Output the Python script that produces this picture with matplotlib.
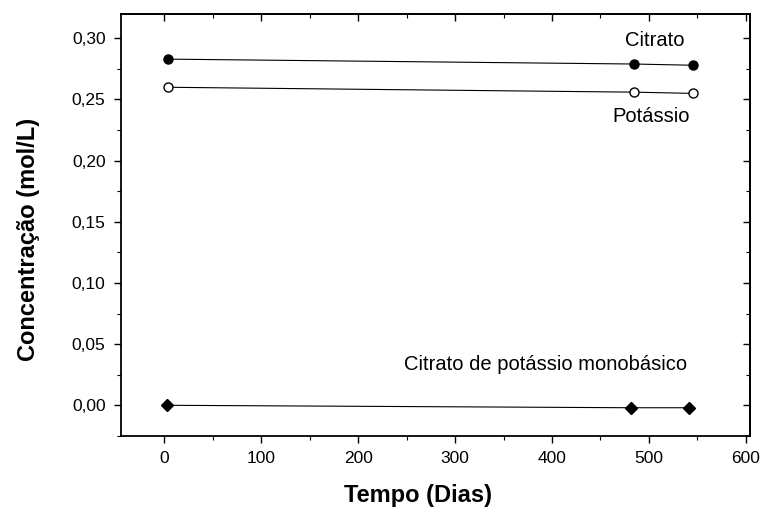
import matplotlib
matplotlib.use("Agg")
import matplotlib.pyplot as plt
from matplotlib.ticker import MultipleLocator, FuncFormatter, NullFormatter

plt.rcParams['font.family'] = ['Liberation Sans', 'DejaVu Sans']

dias_citrato = [4, 485, 545]
citrato = [0.283, 0.279, 0.278]
dias_potassio = [4, 485, 545]
potassio = [0.260, 0.256, 0.255]
dias_mono = [3, 481, 541]
mono = [0.000, -0.002, -0.002]

fig = plt.figure(figsize=(7.65, 5.14), dpi=100)
ax = fig.add_axes([0.158, 0.152, 0.822, 0.821])

ax.plot(dias_citrato, citrato, '-', color='black', lw=0.8, marker='o', ms=6.5,
        mfc='black', mec='black')
ax.plot(dias_potassio, potassio, '-', color='black', lw=0.8, marker='o', ms=6.5,
        mfc='white', mec='black')
ax.plot(dias_mono, mono, '-', color='black', lw=0.8, marker='D', ms=6,
        mfc='black', mec='black')

ax.text(506, 0.298, 'Citrato', ha='center', va='center', fontsize=14.5)
ax.text(502, 0.236, 'Potássio', ha='center', va='center', fontsize=14.5)
ax.text(393, 0.0335, 'Citrato de potássio monobásico', ha='center', va='center', fontsize=14.5)

ax.set_xlim(-45, 604)
ax.set_ylim(-0.025, 0.32)
ax.xaxis.set_major_locator(MultipleLocator(100))
ax.xaxis.set_minor_locator(MultipleLocator(50))
ax.yaxis.set_major_locator(MultipleLocator(0.05))
ax.yaxis.set_minor_locator(MultipleLocator(0.025))
ax.yaxis.set_major_formatter(FuncFormatter(lambda v, p: f"{v:.2f}".replace('.', ',').replace('-0,00', '0,00')))

ax.tick_params(axis='both', which='major', direction='out', length=5, width=1, labelsize=12.5, pad=6)
ax.tick_params(axis='both', which='minor', direction='out', length=3, width=0.8)
for sp in ax.spines.values():
    sp.set_linewidth(1.3)

top = ax.secondary_xaxis('top')
top.xaxis.set_major_locator(MultipleLocator(100))
top.xaxis.set_minor_locator(MultipleLocator(50))
top.xaxis.set_major_formatter(NullFormatter())
top.tick_params(which='major', direction='in', length=5, width=1)
top.tick_params(which='minor', direction='in', length=3, width=0.8)
top.spines['top'].set_linewidth(1.3)

right = ax.secondary_yaxis('right')
right.yaxis.set_major_locator(MultipleLocator(0.05))
right.yaxis.set_minor_locator(MultipleLocator(0.025))
right.yaxis.set_major_formatter(NullFormatter())
right.tick_params(which='major', direction='in', length=5, width=1)
right.tick_params(which='minor', direction='in', length=3, width=0.8)
right.spines['right'].set_linewidth(1.3)

ax.set_xlabel('Tempo (Dias)', fontsize=17, fontweight='bold')
ax.set_ylabel('Concentração (mol/L)', fontsize=17, fontweight='bold')
ax.xaxis.set_label_coords(0.473, -0.115)
ax.yaxis.set_label_coords(-0.128, 0.465)

fig.savefig('out.png', dpi=100)
